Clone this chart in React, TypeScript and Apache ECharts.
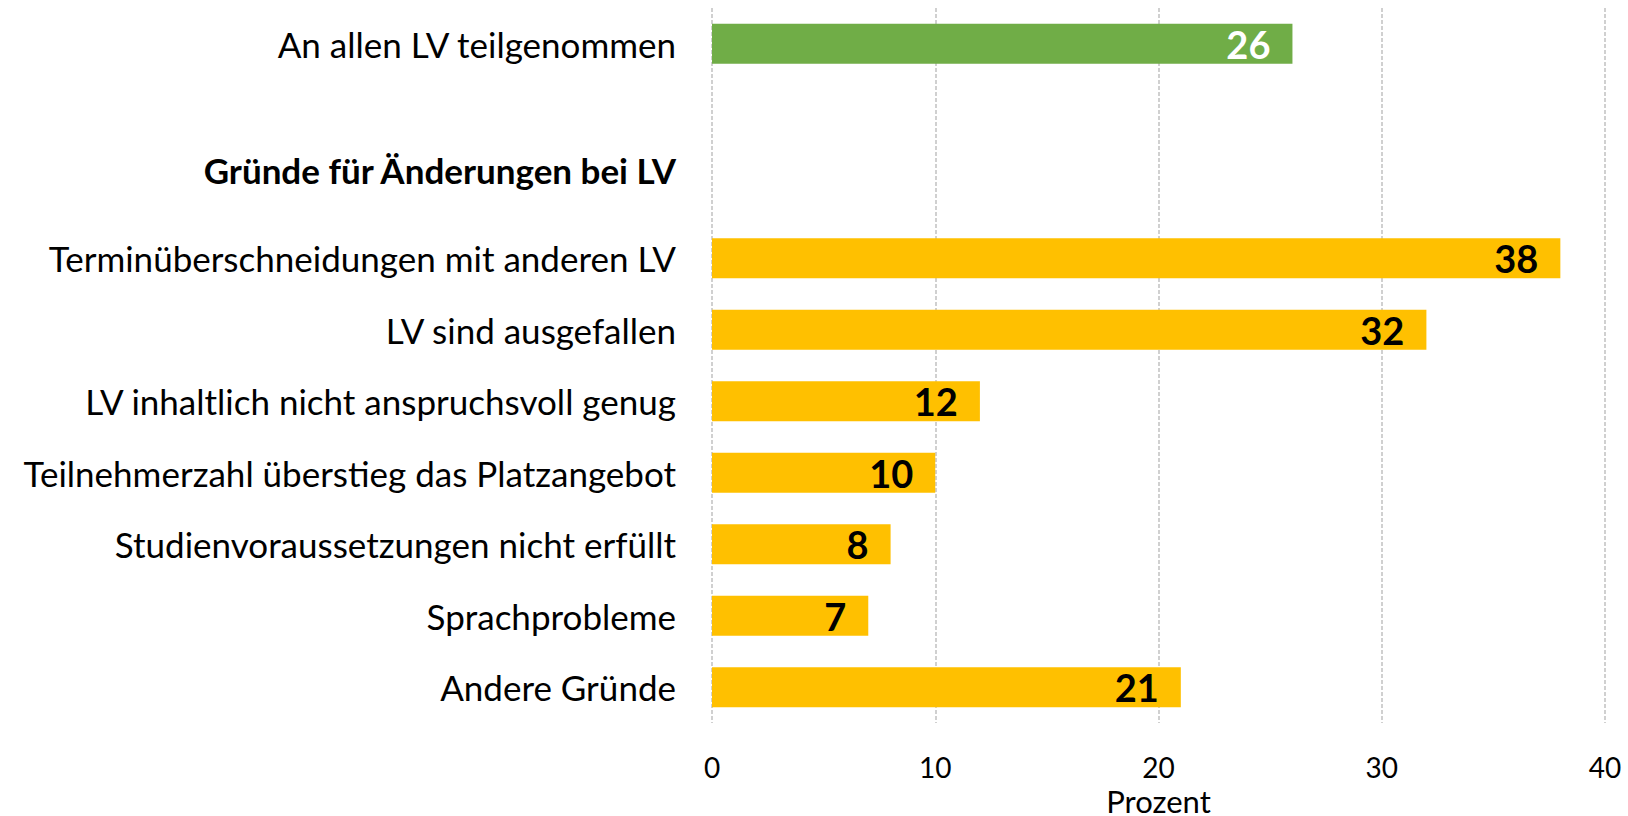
import React, { useEffect, useRef } from "react";
import * as echarts from "echarts";

const HEADER = "Gründe für Änderungen bei LV";

const categories: string[] = [
  "An allen LV teilgenommen",
  "",
  HEADER,
  "Terminüberschneidungen mit anderen LV",
  "LV sind ausgefallen",
  "LV inhaltlich nicht anspruchsvoll genug",
  "Teilnehmerzahl überstieg das Platzangebot",
  "Studienvoraussetzungen nicht erfüllt",
  "Sprachprobleme",
  "Andere Gründe",
];

const values: (number | null)[] = [26, null, null, 38, 32, 12, 10, 8, 7, 21];

const xTicks = [0, 10, 20, 30, 40];
const xAxisTitle = "Prozent";

const GREEN = "#70AD47";
const YELLOW = "#FFC000";
const FONT = "Lato";

export default function App() {
  const ref = useRef<HTMLDivElement>(null);

  useEffect(() => {
    if (!ref.current) return;
    const chart = echarts.init(ref.current, null, { renderer: "svg" });
    const data = values.map((v, i) => ({
      value: v,
      itemStyle: { color: i === 0 ? GREEN : YELLOW },
      label: { color: i === 0 ? "#FFFFFF" : "#000000" },
    }));
    chart.setOption({
      animation: false,
      backgroundColor: "#FFFFFF",
      grid: {
        left: 712,
        right: 23,
        top: 8,
        bottom: 93,
        containLabel: false,
        outerBoundsMode: "none",
      },
      xAxis: {
        type: "value",
        min: xTicks[0],
        max: xTicks[xTicks.length - 1],
        interval: 10,
        name: xAxisTitle,
        nameLocation: "middle",
        nameGap: 56,
        nameTextStyle: {
          fontFamily: FONT,
          fontSize: 31,
          lineHeight: 31,
          color: "#000",
        },
        axisLine: { show: false },
        axisTick: { show: false },
        axisLabel: {
          fontFamily: FONT,
          fontSize: 28,
          color: "#000",
          margin: 30,
        },
        splitLine: {
          show: true,
          lineStyle: { color: "#D0D0D0", width: 2, type: [4, 2] },
        },
      },
      yAxis: {
        type: "category",
        inverse: true,
        data: categories,
        axisLine: { show: false },
        axisTick: { show: false },
        axisLabel: {
          margin: 36,
          formatter: (v: string) => (v === HEADER ? `{h|${v}}` : `{n|${v}}`),
          rich: {
            n: { fontFamily: FONT, fontSize: 35, color: "#000" },
            h: {
              fontFamily: FONT,
              fontSize: 35,
              fontWeight: "bold",
              color: "#000",
              padding: [0, 0, 34, 0],
            },
          },
        },
      },
      series: [
        {
          type: "bar",
          data,
          barWidth: "56%",
          label: {
            show: true,
            position: "insideRight",
            distance: 22,
            fontFamily: FONT,
            fontSize: 38,
            fontWeight: "bold",
          },
        },
      ],
    });
    return () => chart.dispose();
  }, []);

  return (
    <div
      ref={ref}
      style={{ position: "absolute", left: 0, top: 0, width: 1628, height: 816 }}
    />
  );
}
